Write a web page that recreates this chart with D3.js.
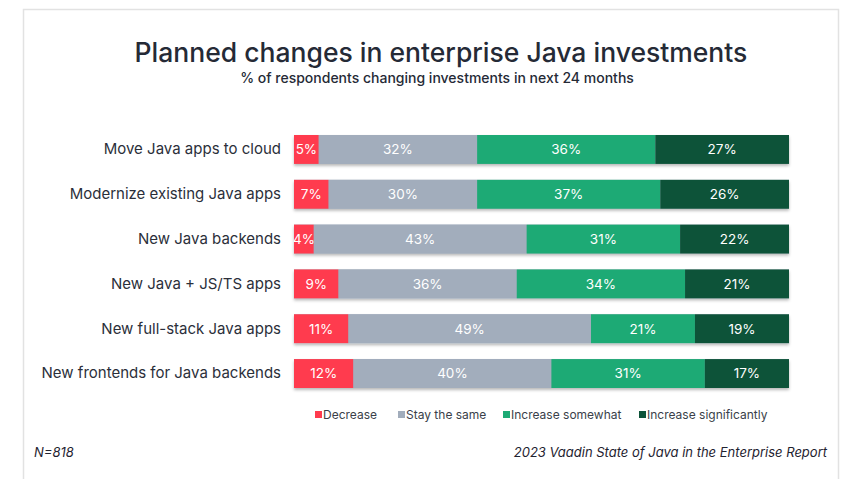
<!DOCTYPE html>
<html>
<head>
<meta charset="utf-8">
<script src="https://cdn.jsdelivr.net/npm/d3@7"></script>
<style>
  html, body { margin: 0; padding: 0; background: #fff; }
  svg { display: block; font-family: Inter, "Noto Sans", sans-serif; }
</style>
</head>
<body>
<svg id="chart" width="845" height="479"></svg>
<script>
// Survey categories (top to bottom) and share of respondents per answer
const categories = [
  "Move Java apps to cloud",
  "Modernize existing Java apps",
  "New Java backends",
  "New Java + JS/TS apps",
  "New full-stack Java apps",
  "New frontends for Java backends"
];
const seriesNames = ["Decrease", "Stay the same", "Increase somewhat", "Increase significantly"];
const decrease = [5, 7, 4, 9, 11, 12];
const stayTheSame = [32, 30, 43, 36, 49, 40];
const increaseSomewhat = [36, 37, 31, 34, 21, 31];
const increaseSignificantly = [27, 26, 22, 21, 19, 17];
const colors = ["#ff3b4e", "#a2adbc", "#1daa75", "#0d5339"];

const rows = categories.map((c, i) => ({
  category: c,
  "Decrease": decrease[i],
  "Stay the same": stayTheSame[i],
  "Increase somewhat": increaseSomewhat[i],
  "Increase significantly": increaseSignificantly[i]
}));

const svg = d3.select("#chart");

// card frame
svg.append("path")
  .attr("d", "M23.5,490 V9.5 H838.5 V490")
  .attr("fill", "none")
  .attr("stroke", "#e2e2e2")
  .attr("stroke-width", 1.5);

// drop shadow for bars
const defs = svg.append("defs");
const f = defs.append("filter").attr("id", "shadow")
  .attr("x", "-5%").attr("y", "-30%").attr("width", "110%").attr("height", "180%");
f.append("feDropShadow").attr("dx", 0).attr("dy", 2).attr("stdDeviation", 1.5)
  .attr("flood-color", "#000").attr("flood-opacity", 0.28);

svg.append("text")
  .attr("x", 441).attr("y", 62)
  .attr("text-anchor", "middle")
  .attr("font-size", 26.5).attr("font-weight", 500).attr("fill", "#252a36")
  .text("Planned changes in enterprise Java investments");
svg.append("text")
  .attr("x", 437).attr("y", 83)
  .attr("text-anchor", "middle")
  .attr("font-size", 14).attr("font-weight", 500).attr("fill", "#252a36")
  .text("% of respondents changing investments in next 24 months");

const x = d3.scaleLinear().domain([0, 100]).range([294, 789]);
const y = d3.scaleBand().domain(categories).range([135, 388]).paddingInner(0.355).paddingOuter(0);

const stacked = d3.stack().keys(seriesNames)(rows);

const rowG = svg.append("g").selectAll("g.row")
  .data(categories).join("g").attr("class", "row")
  .attr("filter", "url(#shadow)");

// shadow layer: one full-width rect per row
rowG.append("rect")
  .attr("x", x(0)).attr("width", x(100) - x(0))
  .attr("y", d => y(d)).attr("height", y.bandwidth())
  .attr("fill", "#a2adbc");

const segs = svg.append("g");
stacked.forEach((layer, k) => {
  segs.selectAll(null).data(layer).join("rect")
    .attr("x", d => x(d[0]))
    .attr("width", d => x(d[1]) - x(d[0]))
    .attr("y", d => y(d.data.category))
    .attr("height", y.bandwidth())
    .attr("fill", colors[k]);
  segs.selectAll(null).data(layer).join("text")
    .attr("x", d => (x(d[0]) + x(d[1])) / 2)
    .attr("y", d => y(d.data.category) + y.bandwidth() / 2)
    .attr("dy", "0.36em")
    .attr("text-anchor", "middle")
    .attr("font-size", 13.5).attr("fill", "#fff")
    .text(d => (d[1] - d[0]) + "%");
});

// category axis
const yAxis = svg.append("g")
  .attr("transform", "translate(281,0)")
  .call(d3.axisLeft(y).tickSize(0).tickPadding(0));
yAxis.select(".domain").remove();
yAxis.selectAll("text")
  .attr("font-family", "Inter, 'Noto Sans', sans-serif")
  .attr("font-size", 15).attr("fill", "#2b2f3a");

// legend
const legendX = [315, 398, 503, 639];
const legend = svg.append("g").selectAll("g").data(seriesNames).join("g")
  .attr("transform", (d, i) => `translate(${legendX[i]},415)`);
legend.append("rect").attr("x", 0).attr("y", -4).attr("width", 7).attr("height", 7)
  .attr("fill", (d, i) => colors[i]);
legend.append("text").attr("x", 8).attr("y", 0).attr("dy", "0.36em")
  .attr("font-size", 12).attr("fill", "#3a3f4a").text(d => d);

// footer
svg.append("text").attr("x", 34).attr("y", 457)
  .attr("font-size", 13).attr("font-style", "italic").attr("fill", "#1f2330")
  .text("N=818");
svg.append("text").attr("x", 827).attr("y", 457)
  .attr("text-anchor", "end")
  .attr("font-size", 13).attr("font-style", "italic").attr("fill", "#1f2330")
  .text("2023 Vaadin State of Java in the Enterprise Report");
</script>
</body>
</html>
